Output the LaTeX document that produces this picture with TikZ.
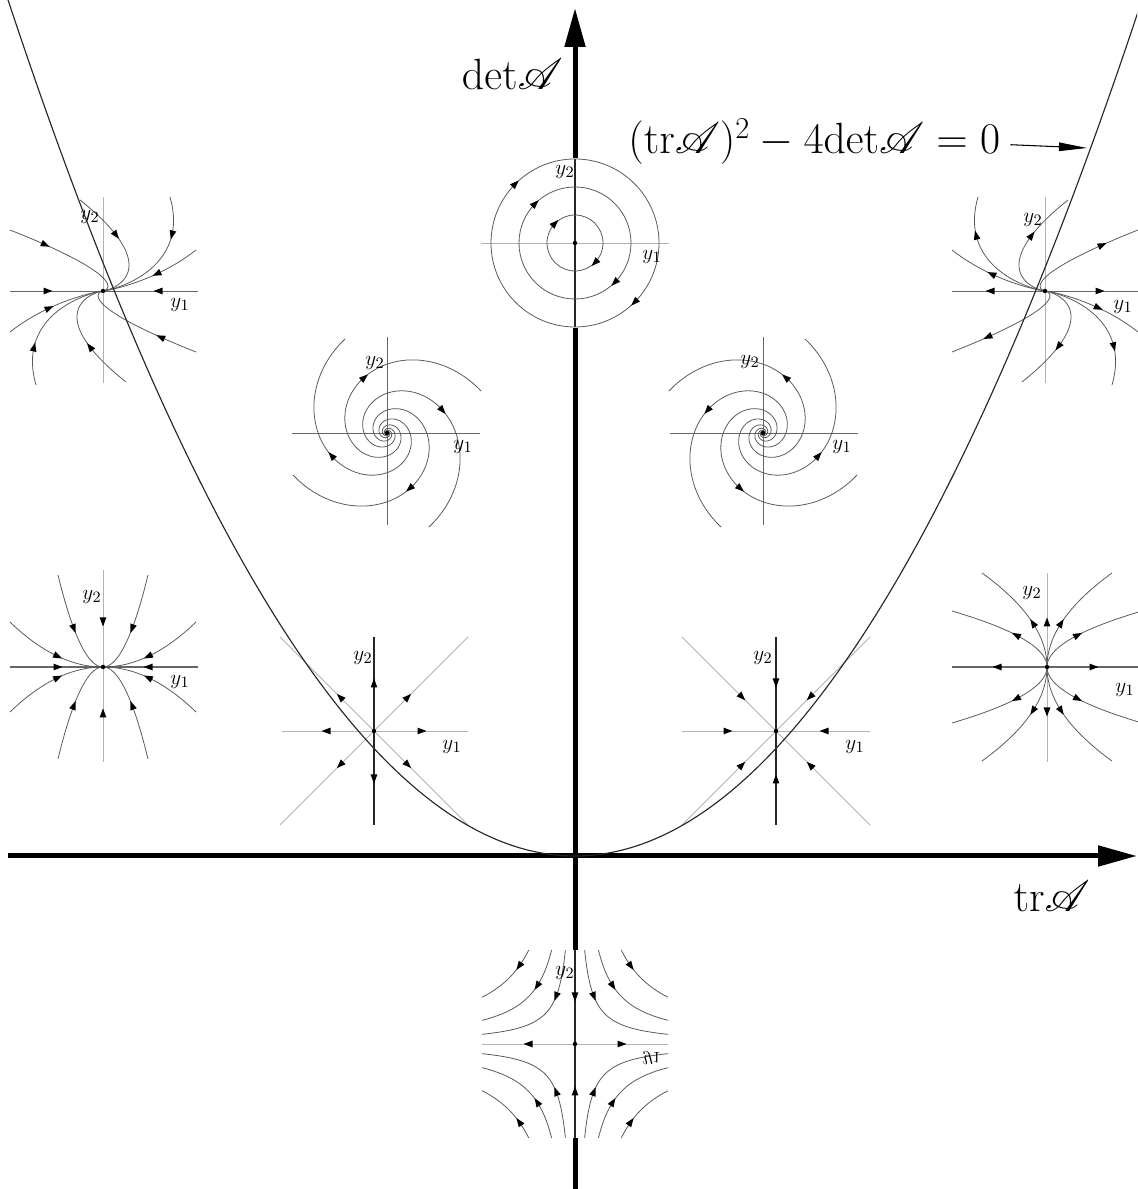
\documentclass[tikz,border=0pt]{standalone}
\usepackage{mathrsfs}
\usetikzlibrary{arrows.meta}
\tikzset{
  mainaxis/.style={line width=0.1cm,-{Triangle[length=0.78cm,width=0.4cm]}},
  darkax/.style={draw=black!85,line width=0.6pt},
  lightax/.style={draw=black!30,line width=0.45pt},
  midax/.style={draw=black!60,line width=0.55pt},
  traj/.style={draw=black!65,line width=0.45pt},
  parab/.style={draw=black!85,line width=0.65pt},
  lab/.style={font=\fontsize{13}{15}\selectfont,inner sep=0pt},
  biglab/.style={font=\fontsize{26}{30}\selectfont,inner sep=0pt},
}
\newcommand\ah[2]{\fill[black,shift={#1},rotate={#2}] (4.5,0) -- (-4.5,3.4) -- (-4.5,-3.4) -- cycle;}
\newcommand\ahp[4]{\pgfmathsetmacro\pang{atan2((#4)-(#2),(#3)-(#1))}\ah{({#3},{#4})}{\pang}}
\newcommand\dna[4]{%
  \pgfmathsetmacro\pxa{((#1)+(#2)*(#3))*exp(-(#3))}%
  \pgfmathsetmacro\pya{(#2)*exp(-(#3))}%
  \pgfmathsetmacro\pxb{((#1)+(#2)*((#3)+0.02))*exp(-((#3)+0.02))}%
  \pgfmathsetmacro\pyb{(#2)*exp(-((#3)+0.02))}%
  \pgfmathsetmacro\pang{atan2((#4)*((\pyb)-(\pya)),(#4)*((\pxb)-(\pxa)))}%
  \ah{(\pxa,\pya)}{\pang}}
\begin{document}
\begin{tikzpicture}[x=0.02cm,y=0.02cm]
\useasboundingbox (0,0) rectangle (1137,1189);
% main axes
\coordinate (xs) at (8,333);
\coordinate (xe) at (1137,333);
\coordinate (ys) at (575,0);
\coordinate (ye) at (575,1181);
\draw[mainaxis] (xs) -- (xe);
\draw[mainaxis] (ys) -- (ye);

% ---------- centre (top) ----------
\begin{scope}[shift={(575,946)}]
 \fill[white] (0,0) circle (85);
 \draw[lightax] (-94,0) -- (94,0);
 \draw[darkax] (0,-84) -- (0,84);
 \foreach \r in {28,56,84} \draw[traj] (0,0) circle (\r);
 \foreach \r/\a in {28/135,56/135,84/135,28/-45,56/-45,84/-45}
   {\ah{({\r*cos(\a)},{\r*sin(\a)})}{\a-90}}
 \fill (0,0) circle (2.2);
 \node[lab] (c-y2) at (-10,71) {$y_2$};
 \node[lab] (c-y1) at (77,-14) {$y_1$};
\end{scope}

% ---------- saddle (bottom) ----------
\begin{scope}[shift={(575,145)}]
 \fill[white] (-96,-94) rectangle (96,94);
 \draw[lightax] (-93,0) -- (93,0);
 \draw[darkax] (0,-94) -- (0,94);
 \foreach \k/\st/\ax in {900/9.6/18,2200/23.4/37,4350/46.3/55}{
   \foreach \sx/\sy in {1/1,1/-1,-1/1,-1/-1}{
     \draw[traj] plot[domain=\st:93,samples=60] ({\sx*\x},{\sy*\k/\x});
     \ahp{\sx*\ax}{\sy*\k/\ax}{\sx*(\ax+1)}{\sy*\k/(\ax+1)}
   }}
 \ah{(-47,0)}{180}\ah{(47,0)}{0}\ah{(0,47)}{-90}\ah{(0,-47)}{90}
 \fill (0,0) circle (2.2);
 \node[lab] (s-y2) at (-10,71) {$y_2$};
 \node[lab] (s-y1) at (77,-14) {\scalebox{1}[-1]{$y_1$}};
\end{scope}

% ---------- left spiral ----------
\begin{scope}[shift={(387,756)}]
 \draw[midax] (-95,0) -- (93,0);
 \draw[midax] (0,-92) -- (0,96);
 \foreach \k in {24,114,204,294}{
   \draw[traj] plot[domain=0:14,samples=300,smooth] ({103*exp(-0.35*\x)*cos(\k+deg(\x))},{103*exp(-0.35*\x)*sin(\k+deg(\x))});
   \ah{({60*cos(\k+88)},{60*sin(\k+88)})}{\k+88-70.7}
 }
 \fill (0,0) circle (2.2);
 \node[lab] (ls1-y2) at (-12,70) {$y_2$};
 \node[lab] (ls1-y1) at (76,-14) {$y_1$};
\end{scope}

% ---------- right spiral ----------
\begin{scope}[shift={(763,756)}]
 \draw[midax] (-93,0) -- (95,0);
 \draw[midax] (0,-92) -- (0,96);
 \foreach \k in {156,66,-24,246}{
   \draw[traj] plot[domain=0:14,samples=300,smooth] ({103*exp(-0.35*\x)*cos(\k-deg(\x))},{103*exp(-0.35*\x)*sin(\k-deg(\x))});
   \ah{({60*cos(\k-88)},{60*sin(\k-88)})}{\k-88+70.7}
 }
 \fill (0,0) circle (2.2);
 \node[lab] (rs1-y2) at (-13,71) {$y_2$};
 \node[lab] (rs1-y1) at (79,-14) {$y_1$};
\end{scope}

% ---------- top-left degenerate node ----------
\begin{scope}[shift={(103,898)}]
 \draw[lightax] (0,-92) -- (0,94);
 \draw[midax] (-93,0) -- (95,0);
 \foreach \a/\b in {-93/61,93/-61,-93/-41,93/41,67/94,-67/-94,-23/91,23/-91}
   \draw[traj] plot[domain=0:9,samples=150,smooth] ({((\a)+(\b)*\x)*exp(-\x)},{(\b)*exp(-\x)});
 \foreach \a/\b/\tv in {-93/61/0.28,93/-61/0.28,-93/-41/0.88,93/41/0.88,67/94/0.52,-67/-94/0.52,-23/91/0.49,23/-91/0.49}
   {\dna{\a}{\b}{\tv}{1}}
 \ah{(-55,0)}{0}\ah{(55,0)}{180}
 \fill (0,0) circle (2.2);
 \node[lab] (tl-y2) at (-13,74) {$y_2$};
 \node[lab] (tl-y1) at (77,-14) {$y_1$};
\end{scope}

% ---------- top-right degenerate node ----------
\begin{scope}[shift={(1045,898)},xscale=-1]
 \draw[lightax] (0,-92) -- (0,94);
 \draw[midax] (-93,0) -- (93,0);
 \foreach \a/\b in {-93/61,93/-61,-93/-41,93/41,67/94,-67/-94,-23/91,23/-91}
   \draw[traj] plot[domain=0:9,samples=150,smooth] ({((\a)+(\b)*\x)*exp(-\x)},{(\b)*exp(-\x)});
 \foreach \a/\b/\tv in {-93/61/0.28,93/-61/0.28,-93/-41/0.88,93/41/0.88,67/94/0.52,-67/-94/0.52,-23/91/0.49,23/-91/0.49}
   {\dna{\a}{\b}{\tv}{-1}}
 \ah{(-55,0)}{180}\ah{(55,0)}{0}
 \fill (0,0) circle (2.2);
\end{scope}
\node[lab] (tr-y2) at (1033,969) {$y_2$};
\node[lab] (tr-y1) at (1123,882) {$y_1$};

% ---------- left node ----------
\begin{scope}[shift={(103,522)}]
 \draw[lightax] (0,-95) -- (0,97);
 \draw[midax,line width=0.8pt] (-93,0) -- (95,0);
 \foreach \sx/\sy in {1/1,1/-1,-1/1,-1/-1}{
   \draw[traj] plot[domain=0:45,samples=40] ({\sx*\x},{\sy*0.0454*\x*\x});
   \draw[traj] plot[domain=0:93,samples=50] ({\sx*\x},{\sy*0.0052*\x*\x});
   \ahp{\sx*30}{\sy*0.0454*900}{\sx*29}{\sy*0.0454*841}
   \ahp{\sx*46}{\sy*0.0052*2116}{\sx*45}{\sy*0.0052*2025}
 }
 \ah{(-45,0)}{0}\ah{(45,0)}{180}\ah{(0,45)}{-90}\ah{(0,-46)}{90}
 \fill (0,0) circle (2.2);
 \node[lab] (lsn-y2) at (-11,70) {$y_2$};
 \node[lab] (lsn-y1) at (77,-15) {$y_1$};
\end{scope}

% ---------- right node ----------
\begin{scope}[shift={(1047,522)}]
 \draw[lightax] (0,-95) -- (0,94);
 \draw[midax,line width=0.8pt] (-95,0) -- (91,0);
 \foreach \sx/\sy in {1/1,1/-1,-1/1,-1/-1}{
   \draw[traj] plot[domain=0:94,samples=50] ({\sx*0.00736*\x*\x},{\sy*\x});
   \draw[traj] plot[domain=0:56,samples=40] ({\sx*0.0303*\x*\x},{\sy*\x});
   \ahp{\sx*0.00736*1849}{\sy*43}{\sx*0.00736*1936}{\sy*44}
   \ahp{\sx*0.0303*961}{\sy*31}{\sx*0.0303*1024}{\sy*32}
 }
 \ah{(-50,0)}{180}\ah{(47,0)}{0}\ah{(0,45)}{90}\ah{(0,-45)}{-90}
 \fill (0,0) circle (2.2);
 \node[lab] (rsn-y2) at (-15,74) {$y_2$};
 \node[lab] (rsn-y1) at (78,-23) {$y_1$};
\end{scope}

% ---------- left proper node ----------
\begin{scope}[shift={(374,458)}]
 \draw[lightax] (-92,0) -- (94,0);
 \draw[lightax] (-94,94) -- (94,-94);
 \draw[lightax] (94,94) -- (-94,-94);
 \draw[darkax] (0,-94) -- (0,94);
 \foreach \an in {0,45,...,315} {\ah{({48*cos(\an)},{48*sin(\an)})}{\an}}
 \fill (0,0) circle (2.2);
 \node[lab] (lp-y2) at (-11,73) {$y_2$};
 \node[lab] (lp-y1) at (78,-16) {$y_1$};
\end{scope}

% ---------- right proper node ----------
\begin{scope}[shift={(776,458)}]
 \draw[lightax] (-94,0) -- (94,0);
 \draw[lightax] (-94,94) -- (94,-94);
 \draw[lightax] (94,94) -- (-94,-94);
 \draw[darkax] (0,-94) -- (0,94);
 \foreach \an in {0,45,...,315} {\ah{({48*cos(\an)},{48*sin(\an)})}{\an+180}}
 \fill (0,0) circle (2.2);
 \node[lab] (rp-y2) at (-13,73) {$y_2$};
 \node[lab] (rp-y1) at (79,-16) {$y_1$};
\end{scope}

% ---------- parabola ----------
\begin{scope}
 \clip (0,0) rectangle (1137,1189);
 \draw[parab] plot[domain=-570:570,samples=241,smooth] ({575+\x},{333+(0.0516*\x)^2});
\end{scope}

% ---------- labels ----------
\node[biglab,anchor=base east] (detlab) at (563,1099) {$\mathrm{det}\mathscr{A}$};
\node[biglab,anchor=base east] (trlab) at (1090,277) {$\mathrm{tr}\mathscr{A}$};
\node[biglab,anchor=base west] (form) at (628,1035) {$(\mathrm{tr}\mathscr{A})^2-4\mathrm{det}\mathscr{A}=0$};
\coordinate (pa) at (1087,1041);
\draw[line width=0.6pt,-{Triangle[length=0.56cm,width=0.17cm]}] ([xshift=0.2cm,yshift=-0.06cm]form.east) -- (pa);
\end{tikzpicture}
\end{document}
